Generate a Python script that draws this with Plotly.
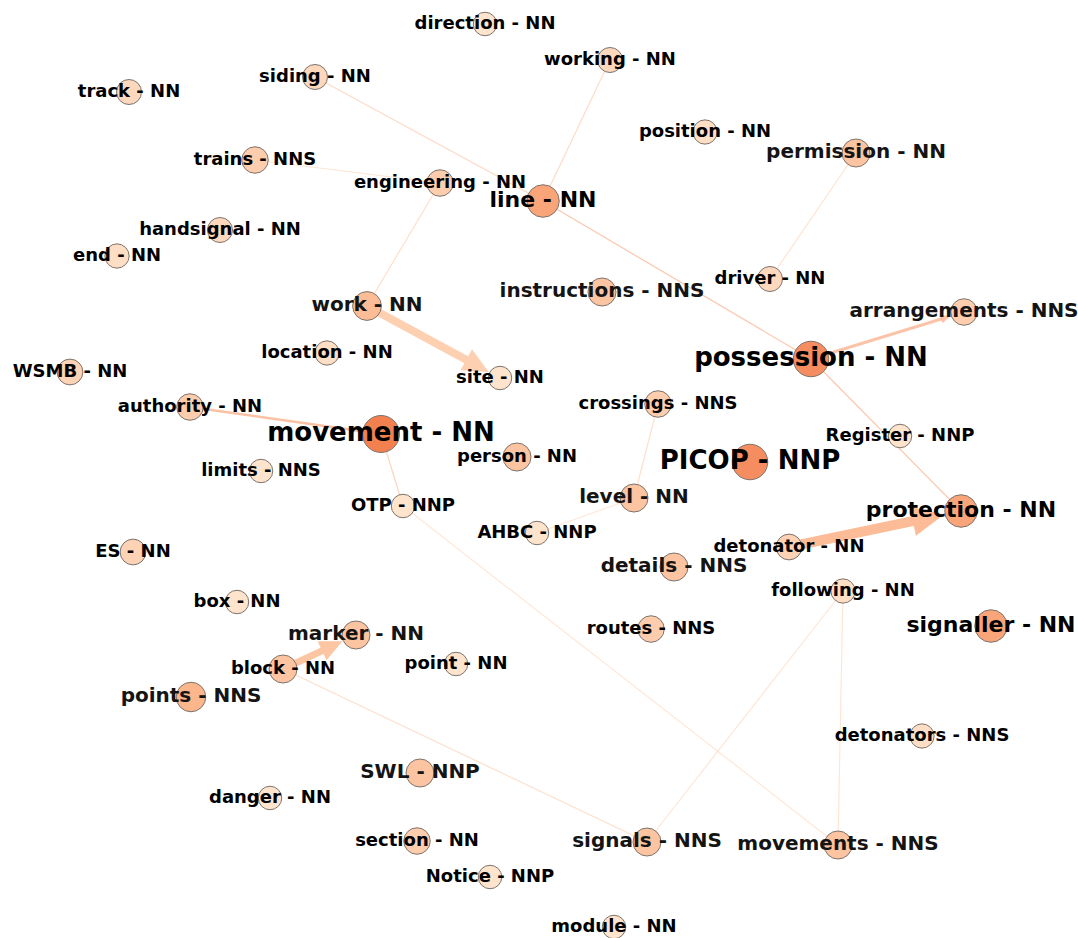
import math
import plotly.graph_objects as go

# ---------------- data ----------------
words = ["direction", "working", "track", "siding", "position", "permission", "trains",
         "engineering", "line", "handsignal", "end", "instructions", "driver", "work",
         "arrangements", "location", "possession", "WSMB", "site", "authority", "crossings",
         "movement", "Register", "person", "PICOP", "limits", "level", "OTP", "protection",
         "AHBC", "detonator", "ES", "details", "following", "box", "routes", "signaller",
         "marker", "block", "point", "points", "detonators", "SWL", "danger", "section",
         "signals", "movements", "Notice", "module"]
pos_tags = ["NN", "NN", "NN", "NN", "NN", "NN", "NNS",
            "NN", "NN", "NN", "NN", "NNS", "NN", "NN",
            "NNS", "NN", "NN", "NN", "NN", "NN", "NNS",
            "NN", "NNP", "NN", "NNP", "NNS", "NN", "NNP", "NN",
            "NNP", "NN", "NN", "NNS", "NN", "NN", "NNS", "NN",
            "NN", "NN", "NN", "NNS", "NNS", "NNP", "NN", "NN",
            "NNS", "NNS", "NNP", "NN"]
layout_x = [485, 610, 129, 315, 705, 856, 255,
            440, 543, 220, 117, 602, 770, 367,
            964, 327, 811, 70, 500, 190, 658,
            381, 900, 517, 750, 261, 634, 403, 961,
            537, 789, 133, 674, 843, 237, 651, 991,
            356, 283, 456, 191, 922, 420, 270, 417,
            647, 838, 490, 614]
layout_y = [24, 60, 92, 77, 132, 153, 160,
            183, 201, 230, 256, 292, 279, 306,
            312, 353, 359, 372, 378, 407, 404,
            434, 436, 457, 462, 471, 498, 506, 511,
            533, 547, 552, 567, 591, 602, 629, 626,
            635, 669, 664, 697, 736, 773, 798, 841,
            842, 845, 877, 927]
node_weight = [1, 2, 2, 2, 1.5, 4, 3,
               3, 7, 2, 1.5, 4, 2, 4.5,
               3, 1.5, 9, 2.5, 1, 3, 3,
               10, 1, 4, 9, 1, 4, 1, 7,
               1, 2.5, 2.5, 4, 1.5, 1, 3, 7,
               4, 4, 1, 5, 1.5, 4, 1, 3,
               4, 4, 1, 1]
# label emphasis: 0 small, 1 medium, 2 large, 3 extra large
label_emphasis = [0, 0, 0, 0, 0, 1, 0,
                  0, 2, 0, 0, 1, 0, 1,
                  1, 0, 3, 0, 0, 0, 0,
                  3, 0, 0, 3, 0, 1, 0, 2,
                  0, 0, 0, 1, 0, 0, 0, 2,
                  1, 0, 0, 1, 0, 1, 0, 0,
                  1, 1, 0, 0]

edge_source = ["siding", "trains", "engineering", "working", "line", "permission",
               "work", "possession", "possession", "authority", "movement", "OTP",
               "crossings", "level", "detonator", "following", "following", "block", "block"]
edge_target = ["line", "engineering", "work", "line", "possession", "driver",
               "site", "arrangements", "protection", "movement", "OTP", "movements",
               "level", "AHBC", "protection", "signals", "movements", "marker", "signals"]
edge_weight = [1, 1, 1, 1, 1, 1,
               8, 3, 1, 2.5, 1, 1,
               1, 1, 10, 1, 1, 7, 1]

# ---------------- helpers ----------------
W, H = 1078, 938
scale_stops = [(1, "#fee4cd"), (2, "#fdd8bd"), (3, "#fdcdad"), (4, "#fcc4a0"),
               (5, "#fbb68c"), (7, "#f9a579"), (9, "#f68d60"), (10, "#f3804f")]


def hex_rgb(h):
    h = h.lstrip("#")
    return [int(h[i:i + 2], 16) for i in (0, 2, 4)]


def weight_rgb(w):
    for (a, ca), (b, cb) in zip(scale_stops[:-1], scale_stops[1:]):
        if a <= w <= b:
            t = (w - a) / (b - a)
            c1, c2 = hex_rgb(ca), hex_rgb(cb)
            return [c1[i] + (c2[i] - c1[i]) * t for i in range(3)]
    return hex_rgb(scale_stops[-1][1]) if w > 1 else hex_rgb(scale_stops[0][1])


def diameter(w):
    return 22 + 1.5 * w


idx = {w: i for i, w in enumerate(words)}
node_rgb = [weight_rgb(w) for w in node_weight]
node_color = ["rgb(%d,%d,%d)" % tuple(round(v) for v in c) for c in node_rgb]
node_size = [diameter(w) for w in node_weight]

fig = go.Figure()

# ---------------- edges ----------------
for s, t, ew in zip(edge_source, edge_target, edge_weight):
    i, j = idx[s], idx[t]
    x0, y0 = layout_x[i], layout_y[i]
    x1, y1 = layout_x[j], layout_y[j]
    c = [(node_rgb[i][k] + node_rgb[j][k]) / 2 for k in range(3)]
    alpha = 0.55 if ew < 2 else min(1.0, 0.55 + 0.06 * ew)
    col = "rgba(%d,%d,%d,%.2f)" % (round(c[0]), round(c[1]), round(c[2]), alpha)
    dx, dy = x1 - x0, y1 - y0
    L = math.hypot(dx, dy)
    ux, uy = dx / L, dy / L
    if ew >= 3:
        r_t = node_size[j] / 2 + 1
        tipx, tipy = x1 - ux * r_t, y1 - uy * r_t
        hl, hw = 3.2 * ew, 3.0 * ew
        bx, by = tipx - ux * hl, tipy - uy * hl
        px, py = -uy, ux
        fig.add_trace(go.Scatter(x=[x0, bx + ux * 1], y=[y0, by + uy * 1], mode="lines",
                                 line=dict(color=col, width=ew), hoverinfo="skip"))
        fig.add_trace(go.Scatter(x=[tipx, bx + px * hw / 2, bx - px * hw / 2, tipx],
                                 y=[tipy, by + py * hw / 2, by - py * hw / 2, tipy],
                                 mode="lines", fill="toself", fillcolor=col,
                                 line=dict(width=0, color=col), hoverinfo="skip"))
    else:
        fig.add_trace(go.Scatter(x=[x0, x1], y=[y0, y1], mode="lines",
                                 line=dict(color=col, width=max(ew, 1.2)), hoverinfo="skip"))

# ---------------- nodes ----------------
fig.add_trace(go.Scatter(
    x=layout_x, y=layout_y, mode="markers",
    marker=dict(size=node_size, color=node_color, opacity=1,
                line=dict(color="rgb(125,115,108)", width=1)),
    text=[f"{w} - {p}" for w, p in zip(words, pos_tags)], hoverinfo="text"))

# ---------------- labels ----------------
label_fonts = {
    0: dict(family="DejaVu Sans", size=18, weight="bold", color="black"),
    1: dict(family="DejaVu Sans", size=20, weight="bold", color="rgb(20,20,20)"),
    2: dict(family="DejaVu Sans", size=22, weight="bold", color="black"),
    3: dict(family="DejaVu Sans", size=26, weight="bold", color="black"),
}
for e, f in label_fonts.items():
    sel = [k for k in range(len(words)) if label_emphasis[k] == e]
    fig.add_trace(go.Scatter(
        x=[layout_x[k] for k in sel], y=[layout_y[k] for k in sel],
        mode="text", text=[f"{words[k]} - {pos_tags[k]}" for k in sel],
        textposition="middle center", textfont=f, hoverinfo="skip"))

fig.update_layout(
    width=W, height=H, margin=dict(l=0, r=0, t=0, b=0),
    paper_bgcolor="white", plot_bgcolor="white", showlegend=False,
    xaxis=dict(range=[0, W], visible=False, fixedrange=True),
    yaxis=dict(range=[H, 0], visible=False, fixedrange=True),
)

fig.write_html("out.html", config={"displayModeBar": False},
               post_script="document.body.style.margin='0';document.body.style.overflow='hidden';")
